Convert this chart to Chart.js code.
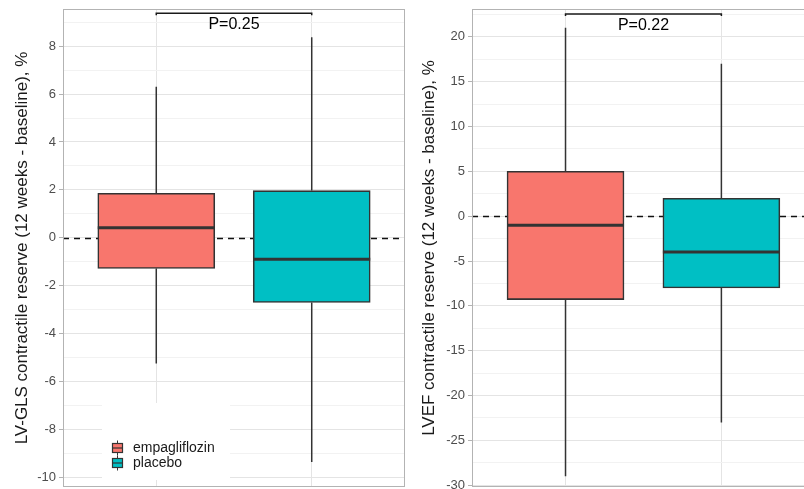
<!DOCTYPE html>
<html>
<head>
<meta charset="utf-8">
<script src="https://cdn.jsdelivr.net/npm/chart.js@4/dist/chart.umd.min.js"></script>
<style>
  html, body { margin: 0; padding: 0; background: #ffffff; }
  body { width: 804px; height: 489px; position: relative; overflow: hidden; }
  canvas { position: absolute; top: 0; }
  #c1 { left: 0; }
  #c2 { left: 406px; }
</style>
</head>
<body>
<canvas id="c1" width="406" height="489"></canvas>
<canvas id="c2" width="398" height="489"></canvas>
<script>
// ---------- data ----------
const categories = ['empagliflozin', 'placebo'];
const groupColors = ['#F8766D', '#00BFC4'];

// LV-GLS contractile reserve (left panel)
const glsWhiskerLow  = [-5.25, -9.36];
const glsQ1          = [-1.28, -2.70];
const glsMedian      = [0.42, -0.89];
const glsQ3          = [1.86, 1.97];
const glsWhiskerHigh = [6.31, 8.37];
const glsTickValues  = [-10, -9, -8, -7, -6, -5, -4, -3, -2, -1, 0, 1, 2, 3, 4, 5, 6, 7, 8, 9];
const glsPValue = 'P=0.25';

// LVEF contractile reserve (right panel)
const efWhiskerLow  = [-29.0, -23.0];
const efQ1          = [-9.3, -8.0];
const efMedian      = [-1.0, -4.0];
const efQ3          = [5.0, 2.0];
const efWhiskerHigh = [21.0, 17.0];
const efTickValues  = [-30, -27.5, -25, -22.5, -20, -17.5, -15, -12.5, -10, -7.5, -5, -2.5, 0, 2.5, 5, 7.5, 10, 12.5, 15, 17.5, 20, 22.5];
const efPValue = 'P=0.22';

// ---------- styling ----------
Chart.defaults.font.family = "'Liberation Sans', Arial, sans-serif";
const INK = '#333333';
const GRID_MAJOR = '#e4e4e4';
const GRID_MINOR = '#f2f2f2';
const FRAME = '#b3b3b3';

const boxPlugin = {
  id: 'boxExtras',
  beforeDatasetsDraw(chart, args, o) {
    const { ctx, chartArea: a, scales: { x, y } } = chart;
    ctx.save();
    ctx.beginPath();
    ctx.rect(a.left, a.top, a.right - a.left, a.bottom - a.top);
    ctx.clip();
    // reference dashed line
    const y0 = Math.round(y.getPixelForValue(0)) + 0.5;
    ctx.setLineDash([6, 5]);
    ctx.lineWidth = 1.6;
    ctx.strokeStyle = '#111';
    ctx.beginPath();
    ctx.moveTo(a.left, y0);
    ctx.lineTo(a.right, y0);
    ctx.stroke();
    ctx.setLineDash([]);
    // whiskers
    ctx.strokeStyle = INK;
    ctx.lineWidth = 1.5;
    o.low.forEach((lo, i) => {
      const px = x.getPixelForValue(i + 1);
      ctx.beginPath();
      ctx.moveTo(px, y.getPixelForValue(o.high[i]));
      ctx.lineTo(px, y.getPixelForValue(o.q3[i]));
      ctx.moveTo(px, y.getPixelForValue(o.q1[i]));
      ctx.lineTo(px, y.getPixelForValue(lo));
      ctx.stroke();
    });
    ctx.restore();
  },
  afterDatasetsDraw(chart, args, o) {
    const { ctx, chartArea: a, scales: { x, y } } = chart;
    ctx.save();
    // medians
    ctx.strokeStyle = INK;
    ctx.lineWidth = 3;
    o.median.forEach((m, i) => {
      const px = x.getPixelForValue(i + 1);
      const half = o.halfWidth;
      const py = y.getPixelForValue(m);
      ctx.beginPath();
      ctx.moveTo(px - half, py);
      ctx.lineTo(px + half, py);
      ctx.stroke();
    });
    // significance bracket
    const bx1 = x.getPixelForValue(1), bx2 = x.getPixelForValue(2);
    const by = y.getPixelForValue(o.bracketValue);
    ctx.strokeStyle = '#1a1a1a';
    ctx.lineWidth = 1.5;
    ctx.beginPath();
    ctx.moveTo(bx1, by + 2);
    ctx.lineTo(bx1, by);
    ctx.lineTo(bx2, by);
    ctx.lineTo(bx2, by + 2);
    ctx.stroke();
    ctx.fillStyle = '#000';
    ctx.font = "16px 'Liberation Sans', Arial, sans-serif";
    ctx.textAlign = 'center';
    ctx.textBaseline = 'middle';
    ctx.fillText(o.pText, (bx1 + bx2) / 2, by + 11.5);
    // legend
    if (o.legend) {
      const L = o.legend;
      ctx.fillStyle = '#ffffff';
      ctx.fillRect(L.x, L.y, L.w, L.h);
      categories.forEach((c, i) => {
        const cy = L.firstY + i * L.step;
        const kx = L.keyX;
        ctx.strokeStyle = INK;
        ctx.lineWidth = 1;
        ctx.beginPath();
        ctx.moveTo(kx, cy - 7.5);
        ctx.lineTo(kx, cy + 7.5);
        ctx.stroke();
        ctx.fillStyle = groupColors[i];
        ctx.fillRect(kx - 5, cy - 4.5, 10, 9);
        ctx.lineWidth = 1.2;
        ctx.strokeRect(kx - 5, cy - 4.5, 10, 9);
        ctx.beginPath();
        ctx.moveTo(kx - 5, cy);
        ctx.lineTo(kx + 5, cy);
        ctx.stroke();
        ctx.fillStyle = '#1a1a1a';
        ctx.font = "14px 'Liberation Sans', Arial, sans-serif";
        ctx.textAlign = 'left';
        ctx.textBaseline = 'middle';
        ctx.fillText(c, L.textX, cy);
      });
    }
    ctx.restore();
  },
  afterDraw(chart, args, o) {
    const { ctx, chartArea: a } = chart;
    ctx.save();
    ctx.strokeStyle = FRAME;
    ctx.lineWidth = 1;
    const extra = o.openRight ? 10 : 0;
    ctx.strokeRect(Math.round(a.left) + 0.5, Math.round(a.top) + 0.5,
      Math.round(a.right - a.left) - 1 + extra, Math.round(a.bottom - a.top) - 1);
    ctx.restore();
  }
};

function makeChart(id, cfg) {
  const isMajor = v => Math.abs(v / cfg.majorStep - Math.round(v / cfg.majorStep)) < 1e-6;
  return new Chart(document.getElementById(id), {
    type: 'bar',
    data: {
      datasets: [{
        data: categories.map((c, i) => ({ x: i + 1, y: [cfg.q1[i], cfg.q3[i]] })),
        backgroundColor: groupColors,
        borderColor: INK,
        borderWidth: 1.6,
        borderSkipped: false,
        barThickness: cfg.barPx
      }]
    },
    options: {
      responsive: false,
      maintainAspectRatio: false,
      devicePixelRatio: 1,
      animation: false,
      events: [],
      layout: { padding: cfg.padding },
      plugins: {
        legend: { display: false },
        tooltip: { enabled: false },
        boxExtras: {
          low: cfg.low, high: cfg.high, q1: cfg.q1, q3: cfg.q3, median: cfg.median,
          halfWidth: cfg.barPx / 2,
          bracketValue: cfg.bracketValue,
          pText: cfg.pText,
          legend: cfg.legend,
          openRight: cfg.openRight
        }
      },
      scales: {
        x: {
          type: 'linear',
          min: 0.4,
          max: cfg.xMax,
          offset: false,
          afterBuildTicks: axis => { axis.ticks = [{ value: 1 }, { value: 2 }]; },
          afterFit: axis => { axis.height = 0; axis.paddingLeft = 0; axis.paddingRight = 0; },
          ticks: { display: false },
          grid: { color: GRID_MAJOR, drawTicks: false, lineWidth: 1, offset: false },
          border: { display: false }
        },
        y: {
          type: 'linear',
          min: cfg.yMin,
          max: cfg.yMax,
          afterBuildTicks: axis => { axis.ticks = cfg.tickValues.map(v => ({ value: v })); },
          afterFit: axis => { axis.width = cfg.yWidth; axis.paddingTop = 0; axis.paddingBottom = 0; },
          ticks: {
            color: '#4d4d4d',
            font: { size: 13 },
            padding: 3,
            autoSkip: false,
            callback: v => isMajor(v) ? String(v) : ''
          },
          grid: {
            color: c => isMajor(c.tick.value) ? GRID_MAJOR : GRID_MINOR,
            tickColor: c => isMajor(c.tick.value) ? FRAME : 'rgba(0,0,0,0)',
            tickLength: 4,
            lineWidth: 1
          },
          border: { display: false },
          title: {
            display: true,
            text: cfg.title,
            color: '#1a1a1a',
            font: { size: 17 },
            padding: { top: cfg.titlePad, bottom: 0 }
          }
        }
      }
    },
    plugins: [boxPlugin]
  });
}

makeChart('c1', {
  q1: glsQ1, q3: glsQ3, low: glsWhiskerLow, high: glsWhiskerHigh, median: glsMedian,
  yMin: -10.4, yMax: 9.55, majorStep: 2, tickValues: glsTickValues,
  xMax: 2.6, barPx: 117, yWidth: 63, titlePad: 12,
  padding: { left: 0, right: 1, top: 9, bottom: 2 },
  bracketValue: 9.37, pText: glsPValue,
  title: 'LV-GLS contractile reserve (12 weeks - baseline), %',
  legend: { x: 102, y: 403, w: 128, h: 77, keyX: 117.5, textX: 133, firstY: 448, step: 15 },
  openRight: false
});

makeChart('c2', {
  q1: efQ1, q3: efQ3, low: efWhiskerLow, high: efWhiskerHigh, median: efMedian,
  yMin: -30.2, yMax: 23.1, majorStep: 5, tickValues: efTickValues,
  xMax: 2.53, barPx: 117, yWidth: 66, titlePad: 13,
  padding: { left: 0, right: 0, top: 9, bottom: 2 },
  bracketValue: 22.53, pText: efPValue,
  title: 'LVEF contractile reserve (12 weeks - baseline), %',
  legend: null,
  openRight: true
});
</script>
</body>
</html>
